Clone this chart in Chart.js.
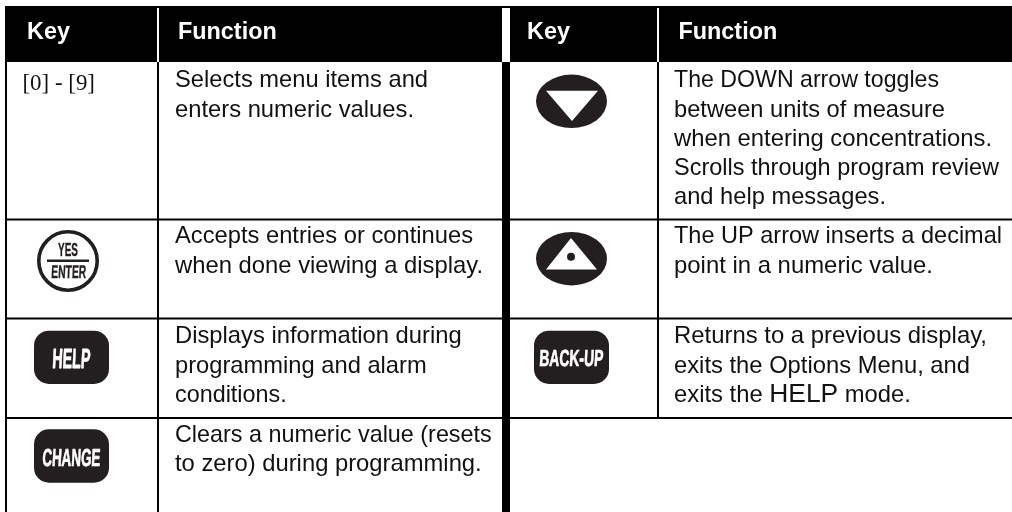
<!DOCTYPE html>
<html>
<head>
<meta charset="utf-8">
<style>html,body{margin:0;padding:0;background:#fff}canvas{display:block}</style>
<script src="https://cdn.jsdelivr.net/npm/chart.js@4"></script>
</head>
<body>
<canvas id="c" width="1012" height="512"></canvas>
<script>
// ---- content ----
const headers = ["Key", "Function", "Key", "Function"];
const leftKeys = ["[0] - [9]", "YES/ENTER", "HELP", "CHANGE"];
const rightKeys = ["DOWN", "UP", "BACK-UP"];
const leftFunctions = [
  ["Selects menu items and", "enters numeric values."],
  ["Accepts entries or continues", "when done viewing a display."],
  ["Displays information during", "programming and alarm", "conditions."],
  ["Clears a numeric value (resets", "to zero) during programming."]
];
const rightFunctions = [
  ["The DOWN arrow toggles", "between units of measure", "when entering concentrations.", "Scrolls through program review", "and help messages."],
  ["The UP arrow inserts a decimal", "point in a numeric value."],
  ["Returns to a previous display,", "exits the Options Menu, and"]
];
const helpLine = ["exits the ", "HELP", " mode."];

// ---- table layout ----
const leftBaselines = [[87,116.5],[243,272.5],[343,372.5,401.5],[441.5,471]];
const rightBaselines = [[87,116.5,146,175,204],[243,272.5],[343,372.5,401.5]];
const leftLineEnds = [[428,414],[473,483],[461.7,426.7,286.7],[491.7,481.7]];
const rightLineEnds = [[939,945,992,999,886],[1002,933],[987,970]];
const ink = "#231f20";
const bodyFont = "23.8px 'Liberation Sans'";

function rule(x0,y0,x1,y1,w,color){
  return {data:[{x:x0,y:y0},{x:x1,y:y1}],borderColor:color,borderWidth:w,pointRadius:0,showLine:true,order:0};
}
const rules = [
  rule(5,34,1012,34,56,"#000"),
  rule(158,8,158,62,2,"#fff"),
  rule(506,8,506,62,8,"#fff"),
  rule(658,8,658,62,2,"#fff"),
  rule(6,62,6,512,2,"#000"),
  rule(158,62,158,512,2,"#000"),
  rule(506,62,506,512,8,"#000"),
  rule(658,62,658,418,2,"#000"),
  rule(5,219.5,1012,219.5,2,"#000"),
  rule(5,318.5,1012,318.5,2,"#000"),
  rule(5,418,1012,418,2,"#000")
].reverse();

function fitted(ctx,text,x,y,end){
  const sx = (end-x)/ctx.measureText(text).width;
  ctx.save();
  ctx.translate(x,y);
  ctx.scale(sx,1);
  ctx.fillText(text,0,0);
  ctx.restore();
}

function squeezed(ctx,text,xl,xr,yTop,yBot,skew,color,heavy){
  // condensed bold key-cap lettering fitted into its box
  const size = 100;
  ctx.save();
  ctx.font = "bold "+size+"px 'Liberation Sans'";
  ctx.textBaseline = "alphabetic";
  ctx.textAlign = "left";
  ctx.fillStyle = color;
  ctx.strokeStyle = color;
  ctx.lineWidth = heavy;
  ctx.lineJoin = "round";
  const sy = (yBot-yTop)/(size*0.688);
  const sx = (xr-xl)/ctx.measureText(text).width;
  ctx.setTransform(sx,0,-skew*sy,sy,xl,yBot);
  ctx.fillText(text,0,0);
  ctx.strokeText(text,0,0);
  ctx.restore();
}

const tablePlugin = {
  id:"table",
  afterDatasetsDraw(chart){
    const ctx = chart.ctx, X = v=>chart.scales.x.getPixelForValue(v), Y = v=>chart.scales.y.getPixelForValue(v);
    ctx.save();
    ctx.textBaseline = "alphabetic"; ctx.textAlign = "left";
    // header
    ctx.fillStyle = "#fff";
    ctx.font = "bold 23.4px 'Liberation Sans'";
    [27,178,527,678.5].forEach((x,i)=>ctx.fillText(headers[i],X(x),Y(39)));
    // function text
    ctx.fillStyle = "#111";
    ctx.font = bodyFont;
    leftFunctions.forEach((ls,r)=>ls.forEach((t,i)=>fitted(ctx,t,X(175),Y(leftBaselines[r][i]),X(leftLineEnds[r][i]))));
    rightFunctions.forEach((ls,r)=>ls.forEach((t,i)=>fitted(ctx,t,X(674),Y(rightBaselines[r][i]),X(rightLineEnds[r][i]))));
    // last line has a larger HELP
    let hx = X(674);
    helpLine.forEach((seg,i)=>{
      ctx.font = i===1 ? "26.4px 'Liberation Sans'" : bodyFont;
      ctx.fillText(seg,hx,Y(rightBaselines[2][2]));
      hx += ctx.measureText(seg).width;
    });
    // key [0]-[9]
    ctx.font = "22.9px 'Liberation Serif'";
    ctx.fillText(leftKeys[0],X(22.5),Y(90));
    // YES / ENTER
    ctx.strokeStyle = ink; ctx.lineWidth = 3.6;
    ctx.beginPath(); ctx.arc(X(68),Y(261),29.2,0,Math.PI*2); ctx.stroke();
    ctx.fillStyle = ink; ctx.fillRect(X(47),Y(259.5),42,2.5);
    squeezed(ctx,"YES",58,78,243.5,256,0,ink,2);
    squeezed(ctx,"ENTER",51,86,265.5,278,0.04,ink,2);
    // rounded keys
    const roundKey=(x0,y0,x1,y1)=>{ctx.fillStyle=ink;ctx.beginPath();ctx.roundRect(X(x0),Y(y0),x1-x0,y1-y0,15);ctx.fill();};
    roundKey(34,330.7,109,384);
    squeezed(ctx,leftKeys[2],52,90,348.7,367.7,0.05,"#fff",3);
    roundKey(34,429.3,109,482.7);
    squeezed(ctx,leftKeys[3],42,100,448.7,465.5,0.05,"#fff",3);
    roundKey(534,330.7,609,384);
    squeezed(ctx,rightKeys[2],539,603,350,366,0.05,"#fff",3);
    // arrow keys
    const oval=(cy)=>{ctx.fillStyle=ink;ctx.beginPath();ctx.ellipse(X(571.5),Y(cy),35.5,26.7,0,0,Math.PI*2);ctx.fill();};
    const tri=(a,b,c)=>{ctx.fillStyle="#fff";ctx.beginPath();ctx.moveTo(X(a[0]),Y(a[1]));ctx.lineTo(X(b[0]),Y(b[1]));ctx.lineTo(X(c[0]),Y(c[1]));ctx.closePath();ctx.fill();};
    oval(101.3);
    tri([546,90.7],[598,90.7],[572,121]);
    oval(258.7);
    tri([571,238],[546,269.5],[597,269.5]);
    ctx.fillStyle=ink;ctx.beginPath();ctx.arc(X(571),Y(256.7),4,0,Math.PI*2);ctx.fill();
    ctx.restore();
  }
};

new Chart(document.getElementById("c"),{
  type:"scatter",
  data:{datasets:rules},
  options:{
    responsive:false,animation:false,
    layout:{padding:0},
    plugins:{legend:{display:false},tooltip:{enabled:false},title:{display:false}},
    scales:{
      x:{type:"linear",min:0,max:1012,display:false},
      y:{type:"linear",min:0,max:512,reverse:true,display:false}
    }
  },
  plugins:[tablePlugin]
});
</script>
</body>
</html>
